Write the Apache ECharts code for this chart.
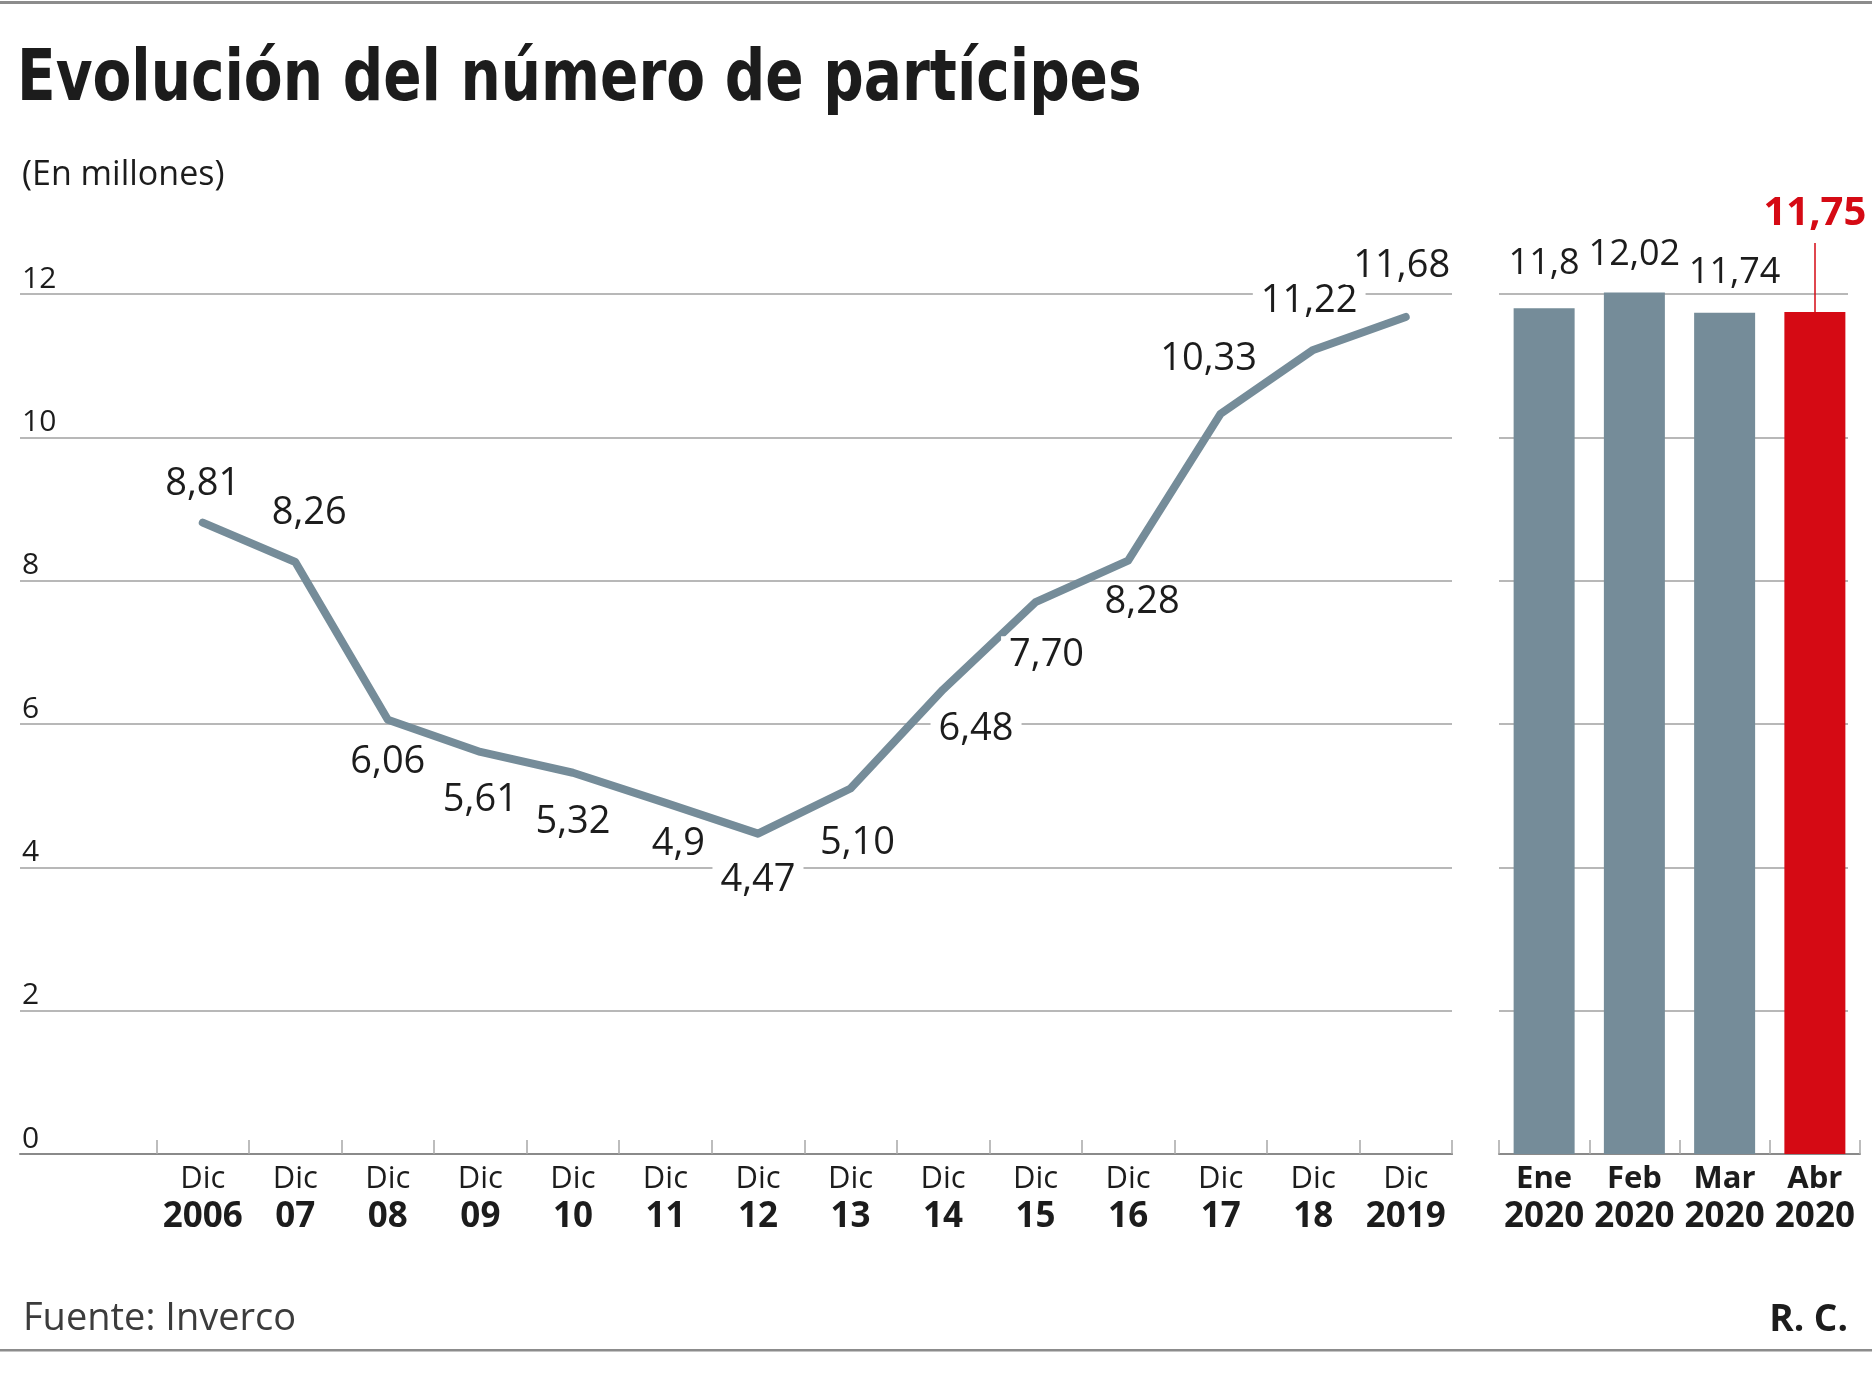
<!DOCTYPE html>
<html>
<head>
<meta charset="utf-8">
<script src="https://cdn.jsdelivr.net/npm/echarts@6/dist/echarts.min.js"></script>
<style>
html,body{margin:0;padding:0;background:#fff;}
#chart{width:1872px;height:1377px;}
</style>
</head>
<body>
<div id="chart"></div>
<script>
// ---- data ----
const yearCats = ['Dic\n2006','Dic\n07','Dic\n08','Dic\n09','Dic\n10','Dic\n11','Dic\n12','Dic\n13','Dic\n14','Dic\n15','Dic\n16','Dic\n17','Dic\n18','Dic\n2019'];
const yearValues = [8.81, 8.26, 6.06, 5.61, 5.32, 4.9, 4.47, 5.10, 6.48, 7.70, 8.28, 10.33, 11.22, 11.68];
const yearLabels = ['8,81','8,26','6,06','5,61','5,32','4,9','4,47','5,10','6,48','7,70','8,28','10,33','11,22','11,68'];
const monthCats = ['Ene\n2020','Feb\n2020','Mar\n2020','Abr\n2020'];
const monthValues = [11.8, 12.02, 11.74, 11.75];
const monthLabels = ['11,8','12,02','11,74','11,75'];
const yTicks = [0, 2, 4, 6, 8, 10, 12];
const pointerTop = 12.71;

// ---- label placement (offsets in px from each point) ----
const lineLabelOffsets = [[0,-38],[14,-49],[0,42],[0,48],[0,49],[13,41],[0,47],[7,55],[33,40],[11,53],[14,42],[-12,-55],[-4,-49],[-4,-51]];
const barLabelDistance = [27, 20, 22, 78];
const barLabelOffsetX = [0, 0, 10, 0];

const GREY = '#758c99';
const RED = '#d50a14';
const TXT = '#1c1c1c';
const GRID_C = '#a0a0a0';
const FONT = '"Open Sans", "Noto Sans", sans-serif';

const axisY = 1154, gTop = 294;
const gBottom = 1377 - axisY;
const yMax = yTicks[yTicks.length - 1];
const unitPx = (axisY - gTop) / yMax;
const barMax = 13;
const barTop = axisY - barMax * unitPx;

const chart = echarts.init(document.getElementById('chart'), null, {renderer: 'canvas'});

const lineData = yearValues.map((v, i) => ({
  value: v,
  label: { formatter: yearLabels[i], offset: lineLabelOffsets[i] }
}));

const barData = monthValues.map((v, i) => {
  const isLast = i === monthValues.length - 1;
  return {
    value: v,
    itemStyle: { color: isLast ? RED : GREY },
    label: {
      formatter: monthLabels[i],
      distance: barLabelDistance[i],
      offset: [barLabelOffsetX[i], 0],
      color: isLast ? RED : TXT,
      fontWeight: isLast ? 'bold' : 'normal',
      fontSize: isLast ? 40 : 36,
      lineHeight: isLast ? 40 : 36
    }
  };
});

const xRich = {
  a: { fontFamily: FONT, fontSize: 31, color: TXT, lineHeight: 38 },
  m: { fontFamily: FONT, fontSize: 31, fontWeight: 'bold', color: TXT, lineHeight: 38 },
  b: { fontFamily: FONT, fontSize: 35, fontWeight: 'bold', color: TXT, lineHeight: 38 },
};

const option = {
  animation: false,
  backgroundColor: '#fff',
  grid: [
    { left: 20, top: gTop, width: 1432, bottom: gBottom, containLabel: false },
    { left: 156.5, top: gTop, width: 1295.5, bottom: gBottom, containLabel: false },
    { left: 1499, top: gTop, width: 349, bottom: gBottom, containLabel: false },
    { left: 1499, top: barTop, width: 361, bottom: gBottom, containLabel: false }
  ],
  xAxis: [
    { gridIndex: 0, type: 'category', data: [''], axisLine: { show: true, lineStyle: { color: '#8a8a8a', width: 2 } }, axisTick: { show: false }, axisLabel: { show: false } },
    { gridIndex: 1, type: 'category', data: yearCats, boundaryGap: true,
      axisLine: { show: true, lineStyle: { color: '#8a8a8a', width: 2 } },
      axisTick: { show: true, inside: true, length: 14, lineStyle: { color: '#a8a8a8', width: 1.5 } },
      axisLabel: { margin: 6, interval: 0,
        formatter: (v) => { const p = v.split('\n'); return '{a|' + p[0] + '}\n{b|' + p[1] + '}'; },
        rich: xRich } },
    { gridIndex: 2, type: 'category', data: [''], show: false },
    { gridIndex: 3, type: 'category', data: monthCats, boundaryGap: true,
      axisLine: { show: true, lineStyle: { color: '#8a8a8a', width: 2 } },
      axisTick: { show: true, inside: true, length: 14, lineStyle: { color: '#a8a8a8', width: 1.5 } },
      axisLabel: { margin: 6, interval: 0,
        formatter: (v) => { const p = v.split('\n'); return '{m|' + p[0] + '}\n{b|' + p[1] + '}'; },
        rich: xRich } }
  ],
  yAxis: [
    { gridIndex: 0, type: 'value', min: yTicks[0], max: yMax, interval: 2,
      axisLine: { show: false }, axisTick: { show: false },
      splitLine: { show: true, lineStyle: { color: GRID_C, width: 1.5 } },
      axisLabel: { inside: true, margin: 2, verticalAlign: 'bottom', align: 'left',
        fontFamily: FONT, fontSize: 30, color: TXT, padding: [0, 0, 0, 0] } },
    { gridIndex: 1, type: 'value', min: 0, max: yMax, interval: 2, show: false },
    { gridIndex: 2, type: 'value', min: 0, max: yMax, interval: 2,
      axisLine: { show: false }, axisTick: { show: false }, axisLabel: { show: false },
      splitLine: { show: true, lineStyle: { color: GRID_C, width: 1.5 } } },
    { gridIndex: 3, type: 'value', min: 0, max: barMax, show: false }
  ],
  series: [
    {
      type: 'line', xAxisIndex: 1, yAxisIndex: 1, data: lineData,
      symbol: 'circle', symbolSize: 1, showSymbol: true,
      itemStyle: { color: GREY },
      lineStyle: { color: GREY, width: 8, cap: 'round', join: 'round' },
      label: { show: true, position: 'inside', fontFamily: FONT, fontSize: 38, color: TXT,
        backgroundColor: '#fff', padding: [0, 8], lineHeight: 38 },
      z: 3
    },
    {
      type: 'bar', xAxisIndex: 3, yAxisIndex: 3, data: barData, barWidth: 61,
      label: { show: true, position: 'top', fontFamily: FONT },
      markLine: {
        silent: true, symbol: ['none', 'none'], label: { show: false },
        lineStyle: { color: RED, width: 1.5, type: 'solid' },
        data: [[{ coord: [3, monthValues[3]] }, { coord: [3, pointerTop] }]]
      },
      z: 3
    }
  ],
  graphic: [
    { type: 'rect', shape: { x: 0, y: 1, width: 1872, height: 3 }, style: { fill: '#8c8c8c' } },
    { type: 'text', left: 17, top: 45, scaleX: 0.873, style: { text: 'Evolución del número de partícipes', font: 'bold 72px "DejaVu Sans Condensed", "DejaVu Sans", sans-serif', fill: '#1c1c1c' } },
    { type: 'text', left: 22, top: 158, style: { text: '(En millones)', font: '34px ' + FONT, fill: TXT } },
    { type: 'text', left: 23, top: 1300, style: { text: 'Fuente: Inverco', font: '38px ' + FONT, fill: '#3c3c3c' } },
    { type: 'text', right: 24, top: 1302, style: { text: 'R. C.', font: 'bold 37px ' + FONT, fill: TXT } },
    { type: 'rect', shape: { x: 0, y: 1349, width: 1872, height: 2.5 }, style: { fill: '#8c8c8c' } }
  ]
};

chart.setOption(option);
</script>
</body>
</html>
